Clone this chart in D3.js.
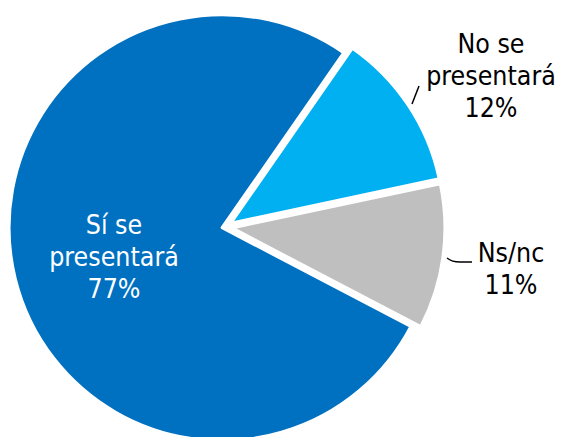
<!DOCTYPE html>
<html>
<head>
<meta charset="utf-8">
<script src="https://cdn.jsdelivr.net/npm/d3@7"></script>
<style>
  html, body { margin: 0; padding: 0; background: #fff; }
  svg { display: block; }
</style>
</head>
<body>
<div id="chart"></div>
<script>
// chart data
var categories = ["Sí se presentará", "No se presentará", "Ns/nc"];
var values = [77, 12, 11];
var colors = ["#0070C0", "#00B0F0", "#BFBFBF"];

var width = 562, height = 437;
var cx = 225, cy = 227, radius = 213;
// how far each slice is pulled out of the pie
var explode = [3, 7, 7];

var svg = d3.select("#chart").append("svg")
    .attr("width", width)
    .attr("height", height);

var start = 117.6 * Math.PI / 180;
var pie = d3.pie().sort(null).value(d => d)
    .startAngle(start).endAngle(start + 2 * Math.PI);
var arcs = pie(values);

var arc = d3.arc().innerRadius(0).outerRadius(radius);

var g = svg.append("g").attr("transform", "translate(" + cx + "," + cy + ")");

g.selectAll("path.slice")
    .data(arcs)
    .enter().append("path")
    .attr("class", "slice")
    .attr("d", arc)
    .attr("fill", (d, i) => colors[i])
    .attr("stroke", "#fff")
    .attr("stroke-width", 3)
    .attr("stroke-linejoin", "round")
    .attr("transform", (d, i) => {
        var a = (d.startAngle + d.endAngle) / 2;
        return "translate(" + (Math.sin(a) * explode[i]) + "," + (-Math.cos(a) * explode[i]) + ")";
    });

// label layout (first line baseline, centred x), text colour
var labelLayout = [
    { x: 114, y: 234, fill: "#fff" },
    { x: 491, y: 53, fill: "#000" },
    { x: 511, y: 262, fill: "#000" }
];
var labelLines = [
    ["Sí se", "presentará", values[0] + "%"],
    ["No se", "presentará", values[1] + "%"],
    ["Ns/nc", values[2] + "%"]
];

labelLines.forEach((lines, i) => {
    lines.forEach((s, j) => {
        svg.append("text")
            .attr("text-anchor", "middle")
            .attr("font-family", "'DejaVu Sans Condensed', 'DejaVu Sans', sans-serif")
            .attr("font-stretch", "condensed")
            .attr("font-size", 26.5)
            .attr("fill", labelLayout[i].fill)
            .attr("x", labelLayout[i].x)
            .attr("y", labelLayout[i].y + j * 31.8)
            .text(s);
    });
});

// leader lines
svg.append("path")
    .attr("d", "M412,104L419,86")
    .attr("fill", "none").attr("stroke", "#000").attr("stroke-width", 1.5);
svg.append("path")
    .attr("d", "M447,258Q452,262 460,262L472,262")
    .attr("fill", "none").attr("stroke", "#000").attr("stroke-width", 1.5);
</script>
</body>
</html>
